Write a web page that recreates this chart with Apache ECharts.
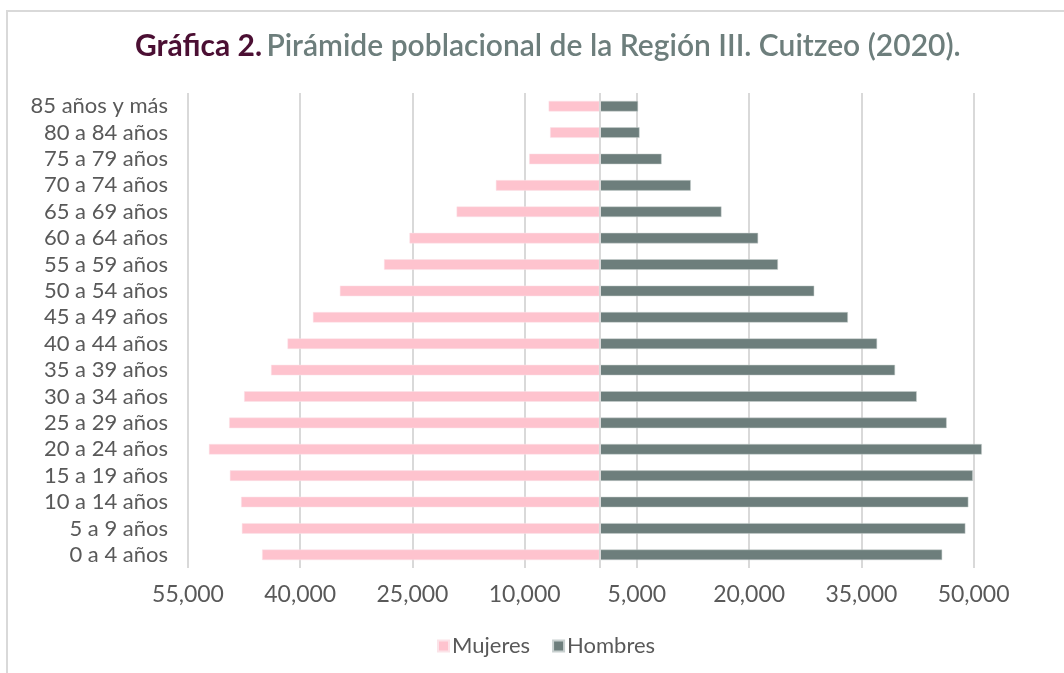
<!DOCTYPE html>
<html>
  <head>
    <meta charset="utf-8" />
    <title>Pirámide poblacional Región III Cuitzeo</title>
    <script src="https://cdn.jsdelivr.net/npm/echarts@6/dist/echarts.min.js"></script>
    <style>
      html, body { margin: 0; padding: 0; background: #fff; }
    </style>
  </head>
  <body>
    <div id="main" style="width: 1064px; height: 673px;"></div>
    <script type="text/javascript">
      // grupos de edad, de abajo hacia arriba
      const grupos = [
        "0 a 4 años", "5 a 9 años", "10 a 14 años", "15 a 19 años",
        "20 a 24 años", "25 a 29 años", "30 a 34 años", "35 a 39 años",
        "40 a 44 años", "45 a 49 años", "50 a 54 años", "55 a 59 años",
        "60 a 64 años", "65 a 69 años", "70 a 74 años", "75 a 79 años",
        "80 a 84 años", "85 años y más",
      ];
      // mujeres (se dibujan en negativo)
      const mujeres = [
        45100, 47800, 47900, 49400, 52200, 49500, 47500, 43900, 41700,
        38300, 34700, 28800, 25400, 19100, 13850, 9400, 6600, 6800,
      ];
      const hombres = [
        45800, 48900, 49300, 49900, 51100, 46400, 42400, 39500, 37100,
        33200, 28700, 23850, 21200, 16300, 12200, 8300, 5350, 5150,
      ];
      const ejeMin = -55000;
      const ejeMax = 55000;
      const ejePaso = 15000;

      const gris = "#595959";
      const fuente = "Lato";

      const myChart = echarts.init(document.getElementById("main"));
      const option = {
        textStyle: { fontFamily: fuente },
        title: {
          left: 130,
          top: 26,
          text: "{a|Gráfica 2.} {b|Pirámide poblacional de la Región III. Cuitzeo (2020).}",
          textStyle: {
            rich: {
              a: { fontFamily: fuente, fontSize: 30, fontWeight: "bold", color: "#4b0f33" },
              b: { fontFamily: fuente, fontSize: 30, fontWeight: 600, color: "#6d7e7c" },
            },
          },
        },
        graphic: [
          {
            type: "polyline",
            silent: true,
            shape: { points: [[7, 673], [7, 11], [1064, 11]] },
            style: { stroke: "#d9d9d9", lineWidth: 2, fill: null },
          },
        ],
        legend: {
          data: ["Mujeres", "Hombres"],
          left: 432,
          top: 630,
          icon: "rect",
          itemWidth: 11,
          itemHeight: 11,
          itemGap: 22,
          textStyle: { fontFamily: fuente, fontSize: 22, color: gris, padding: [0, 0, 0, -2] },
        },
        grid: {
          left: 188,
          right: 53,
          top: 93,
          bottom: 105,
        },
        xAxis: {
          type: "value",
          min: ejeMin,
          max: ejeMax,
          interval: ejePaso,
          axisLine: { show: false },
          axisTick: { show: false },
          axisLabel: {
            fontFamily: fuente,
            fontSize: 23,
            color: gris,
            margin: 15,
            showMaxLabel: false,
            formatter: function (v) {
              if (v === ejeMax) return "";
              return Math.abs(v).toLocaleString("en-US");
            },
          },
          splitLine: {
            showMaxLine: false,
            lineStyle: { color: "#d9d9d9", width: 2 },
          },
        },
        yAxis: {
          type: "category",
          data: grupos,
          axisLine: { show: false },
          axisTick: { show: false },
          axisLabel: {
            interval: 0,
            fontFamily: fuente,
            fontSize: 22,
            lineHeight: 24,
            color: gris,
            margin: 20,
          },
        },
        series: [
          {
            name: "Mujeres",
            type: "bar",
            stack: "total",
            barWidth: "40%",
            itemStyle: { color: "#fec3ce", borderColor: "#fbe3e8", borderWidth: 0.5 },
            data: mujeres.map((v) => -v),
            markLine: {
              silent: true,
              symbol: "none",
              label: { show: false },
              lineStyle: { color: "#d9d9d9", width: 2, type: "solid" },
              data: [{ xAxis: 0 }],
            },
          },
          {
            name: "Hombres",
            type: "bar",
            stack: "total",
            barWidth: "40%",
            itemStyle: { color: "#6d7e7c", borderColor: "#c8d0cf", borderWidth: 0.5 },
            data: hombres,
          },
        ],
      };
      myChart.setOption(option);
    </script>
  </body>
</html>
